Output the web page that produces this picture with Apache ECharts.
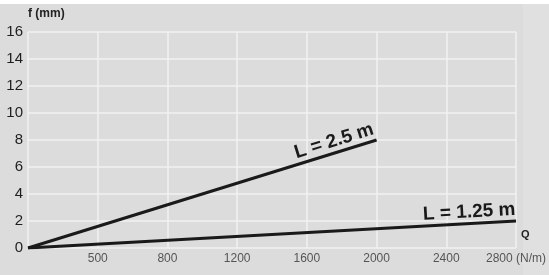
<!DOCTYPE html>
<html>
<head>
<meta charset="utf-8">
<script src="https://cdn.jsdelivr.net/npm/echarts@6/dist/echarts.min.js"></script>
<style>
  html, body { margin: 0; padding: 0; background: #fff; }
  #chart { width: 549px; height: 275px; }
</style>
</head>
<body>
<div id="chart"></div>
<script>
// Q (N/m) against deflection f (mm)
const qLong = [0, 2000];
const fLong = [0, 8];
const qShort = [0, 2800];
const fShort = [0, 2];
const xTickLabels = ['', '500', '800', '1200', '1600', '2000', '2400', '2800 (N/m)'];
const lineNames = ['L = 2.5 m', 'L = 1.25 m'];

const chart = echarts.init(document.getElementById('chart'));
const font = 'Liberation Sans, Arial, sans-serif';

const option = {
  backgroundColor: '#dcdcdc',
  animation: false,
  grid: { left: 28, right: 32, top: 32, bottom: 27 },
  xAxis: {
    type: 'value',
    min: 0,
    max: 2800,
    interval: 400,
    name: 'Q',
    nameLocation: 'end',
    nameGap: 5,
    nameTextStyle: { color: '#222', fontFamily: font, fontWeight: 'bold', fontSize: 11, verticalAlign: 'bottom', padding: [0, 0, 8, 0] },
    axisLine: { show: false },
    axisTick: { show: false },
    axisLabel: {
      color: '#555', fontFamily: font, fontSize: 12, margin: 5,
      formatter: v => xTickLabels[Math.round(v / 400)]
    },
    splitLine: { show: true, lineStyle: { color: '#f2f2f2', width: 1.5 } }
  },
  yAxis: {
    type: 'value',
    min: 0,
    max: 16,
    interval: 2,
    name: 'f (mm)',
    nameLocation: 'end',
    nameGap: 12,
    nameTextStyle: { color: '#222', fontFamily: font, fontWeight: 'bold', fontSize: 12, align: 'left', verticalAlign: 'bottom' },
    axisLine: { show: false },
    axisTick: { show: false },
    axisLabel: { color: '#1e1e1e', fontFamily: font, fontSize: 15, margin: 5 },
    splitLine: { show: true, lineStyle: { color: '#f2f2f2', width: 1.5 } }
  },
  series: [
    {
      name: lineNames[0], type: 'line', symbol: 'none',
      data: qLong.map((q, i) => [q, fLong[i]]),
      lineStyle: { color: '#1a1a1a', width: 3 }
    },
    {
      name: lineNames[1], type: 'line', symbol: 'none',
      data: qShort.map((q, i) => [q, fShort[i]]),
      lineStyle: { color: '#1a1a1a', width: 3 }
    }
  ]
};
chart.setOption(option);

// labels sitting on the end of each line, rotated with it
const lineLabel = (qs, fs, text) => {
  const p0 = chart.convertToPixel({ gridIndex: 0 }, [qs[0], fs[0]]);
  const p1 = chart.convertToPixel({ gridIndex: 0 }, [qs[1], fs[1]]);
  const ang = Math.atan2(p0[1] - p1[1], p1[0] - p0[0]);
  return {
    type: 'text',
    x: p1[0], y: p1[1],
    rotation: ang,
    originX: 0, originY: 0,
    style: {
      text: text, x: 0, y: -2,
      align: 'right', verticalAlign: 'bottom',
      fill: '#1a1a1a', font: 'bold 19px ' + font
    }
  };
};

chart.setOption({
  graphic: [
    { type: 'rect', left: 0, top: 0, shape: { width: 549, height: 4 }, style: { fill: '#ffffff' } },
    { type: 'rect', left: 523, top: 4, shape: { width: 26, height: 271 }, style: { fill: '#e0e0e0' }, z: -1 },
    lineLabel(qLong, fLong, lineNames[0]),
    lineLabel(qShort, fShort, lineNames[1])
  ]
});
</script>
</body>
</html>
